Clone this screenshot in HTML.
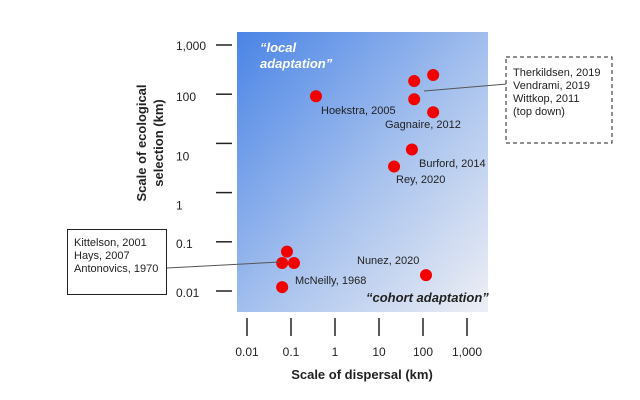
<!DOCTYPE html>
<html><head><meta charset="utf-8"><style>
body{margin:0;background:#fff;}
svg{display:block;font-family:"Liberation Sans",Arial,sans-serif;}
</style></head><body>
<svg width="640" height="400" viewBox="0 0 640 400">
<defs><linearGradient id="bg" x1="0" y1="0" x2="1" y2="1">
<stop offset="0" stop-color="#4a84e6"/><stop offset="0.55" stop-color="#a9c3ee"/><stop offset="1" stop-color="#eeeff4"/></linearGradient></defs>
<rect x="237" y="32" width="251" height="280" fill="url(#bg)"/>
<g id="axes"></g>
<g id="marks"></g>
<text x="260" y="52" fill="#fff" font-size="13" font-weight="bold" font-style="italic">“local</text>
<text x="260" y="68" fill="#fff" font-size="13" font-weight="bold" font-style="italic">adaptation”</text>
<text x="366" y="302" fill="#222" font-size="13" font-weight="bold" font-style="italic">“cohort adaptation”</text>
<g font-size="11" fill="#222">
<text x="321" y="114">Hoekstra, 2005</text>
<text x="385" y="128">Gagnaire, 2012</text>
<text x="419" y="167">Burford, 2014</text>
<text x="396" y="183">Rey, 2020</text>
<text x="357" y="264">Nunez, 2020</text>
<text x="295" y="284">McNeilly, 1968</text>
</g>
<line x1="424" y1="91" x2="507" y2="84" stroke="#555" stroke-width="1"/>
<line x1="167" y1="268" x2="280" y2="262" stroke="#555" stroke-width="1"/>
<rect x="506" y="57" width="106" height="86" fill="#fff" stroke="#222" stroke-dasharray="4,3"/>
<g font-size="11" fill="#222">
<text x="513" y="76">Therkildsen, 2019</text>
<text x="513" y="89">Vendrami, 2019</text>
<text x="513" y="102">Wittkop, 2011</text>
<text x="513" y="115">(top down)</text>
</g>
<rect x="67.5" y="229.5" width="99" height="65" fill="#fff" stroke="#222"/>
<g font-size="11" fill="#222">
<text x="74" y="246">Kittelson, 2001</text>
<text x="74" y="259">Hays, 2007</text>
<text x="74" y="272">Antonovics, 1970</text>
</g>
<text x="362" y="379" text-anchor="middle" font-size="13" font-weight="bold" fill="#222">Scale of dispersal (km)</text>
<g transform="translate(151,143) rotate(-90)" font-size="13" font-weight="bold" fill="#222" text-anchor="middle">
<text x="0" y="-5">Scale of ecological</text><text x="0" y="12">selection (km)</text></g>
</svg>
<script>
const tickValues=[0.01,0.1,1,10,100,1000];
const tickLabels=["0.01","0.1","1","10","100","1,000"];
const xValues=[0.37,63,170,63,170,56,22,0.081,0.063,0.117,0.063,117];
const yValues=[91,185,245,79,43,7.5,3.4,0.063,0.037,0.037,0.012,0.021];
const sx=v=>247+(Math.log10(v)+2)*44;
const sy=v=>291-(Math.log10(v)+2)*49.2;
const NS="http://www.w3.org/2000/svg";
const axes=document.getElementById('axes'),marks=document.getElementById('marks');
tickValues.forEach((v,i)=>{
 let l=document.createElementNS(NS,'line');
 l.setAttribute('x1',sx(v));l.setAttribute('x2',sx(v));l.setAttribute('y1',318);l.setAttribute('y2',336);
 l.setAttribute('stroke','#222');l.setAttribute('stroke-width','1.5');
 
 
 axes.appendChild(l);
 let t=document.createElementNS(NS,'text');
 t.setAttribute('x',sx(v));t.setAttribute('y',356);t.setAttribute('text-anchor','middle');t.setAttribute('font-size','12');t.setAttribute('fill','#222');
 t.textContent=tickLabels[i];
 
 
 axes.appendChild(t);
 let m=document.createElementNS(NS,'line');
 m.setAttribute('x1',216);m.setAttribute('x2',232);m.setAttribute('y1',sy(v));m.setAttribute('y2',sy(v));
 m.setAttribute('stroke','#222');m.setAttribute('stroke-width','1.5');
 
 
 axes.appendChild(m);
 let u=document.createElementNS(NS,'text');
 u.setAttribute('x',176);u.setAttribute('y',sy(v)+(i<2?6:i<4?17:i==4?7:5));u.setAttribute('font-size','12');u.setAttribute('fill','#222');
 u.textContent=tickLabels[i];
 
 
 axes.appendChild(u);
});
xValues.forEach((x,i)=>{
 let c=document.createElementNS(NS,'circle');
 c.setAttribute('cx',sx(x));c.setAttribute('cy',sy(yValues[i]));c.setAttribute('r',6);c.setAttribute('fill','#f20000');
 
 
 marks.appendChild(c);
});
</script>
</body></html>
